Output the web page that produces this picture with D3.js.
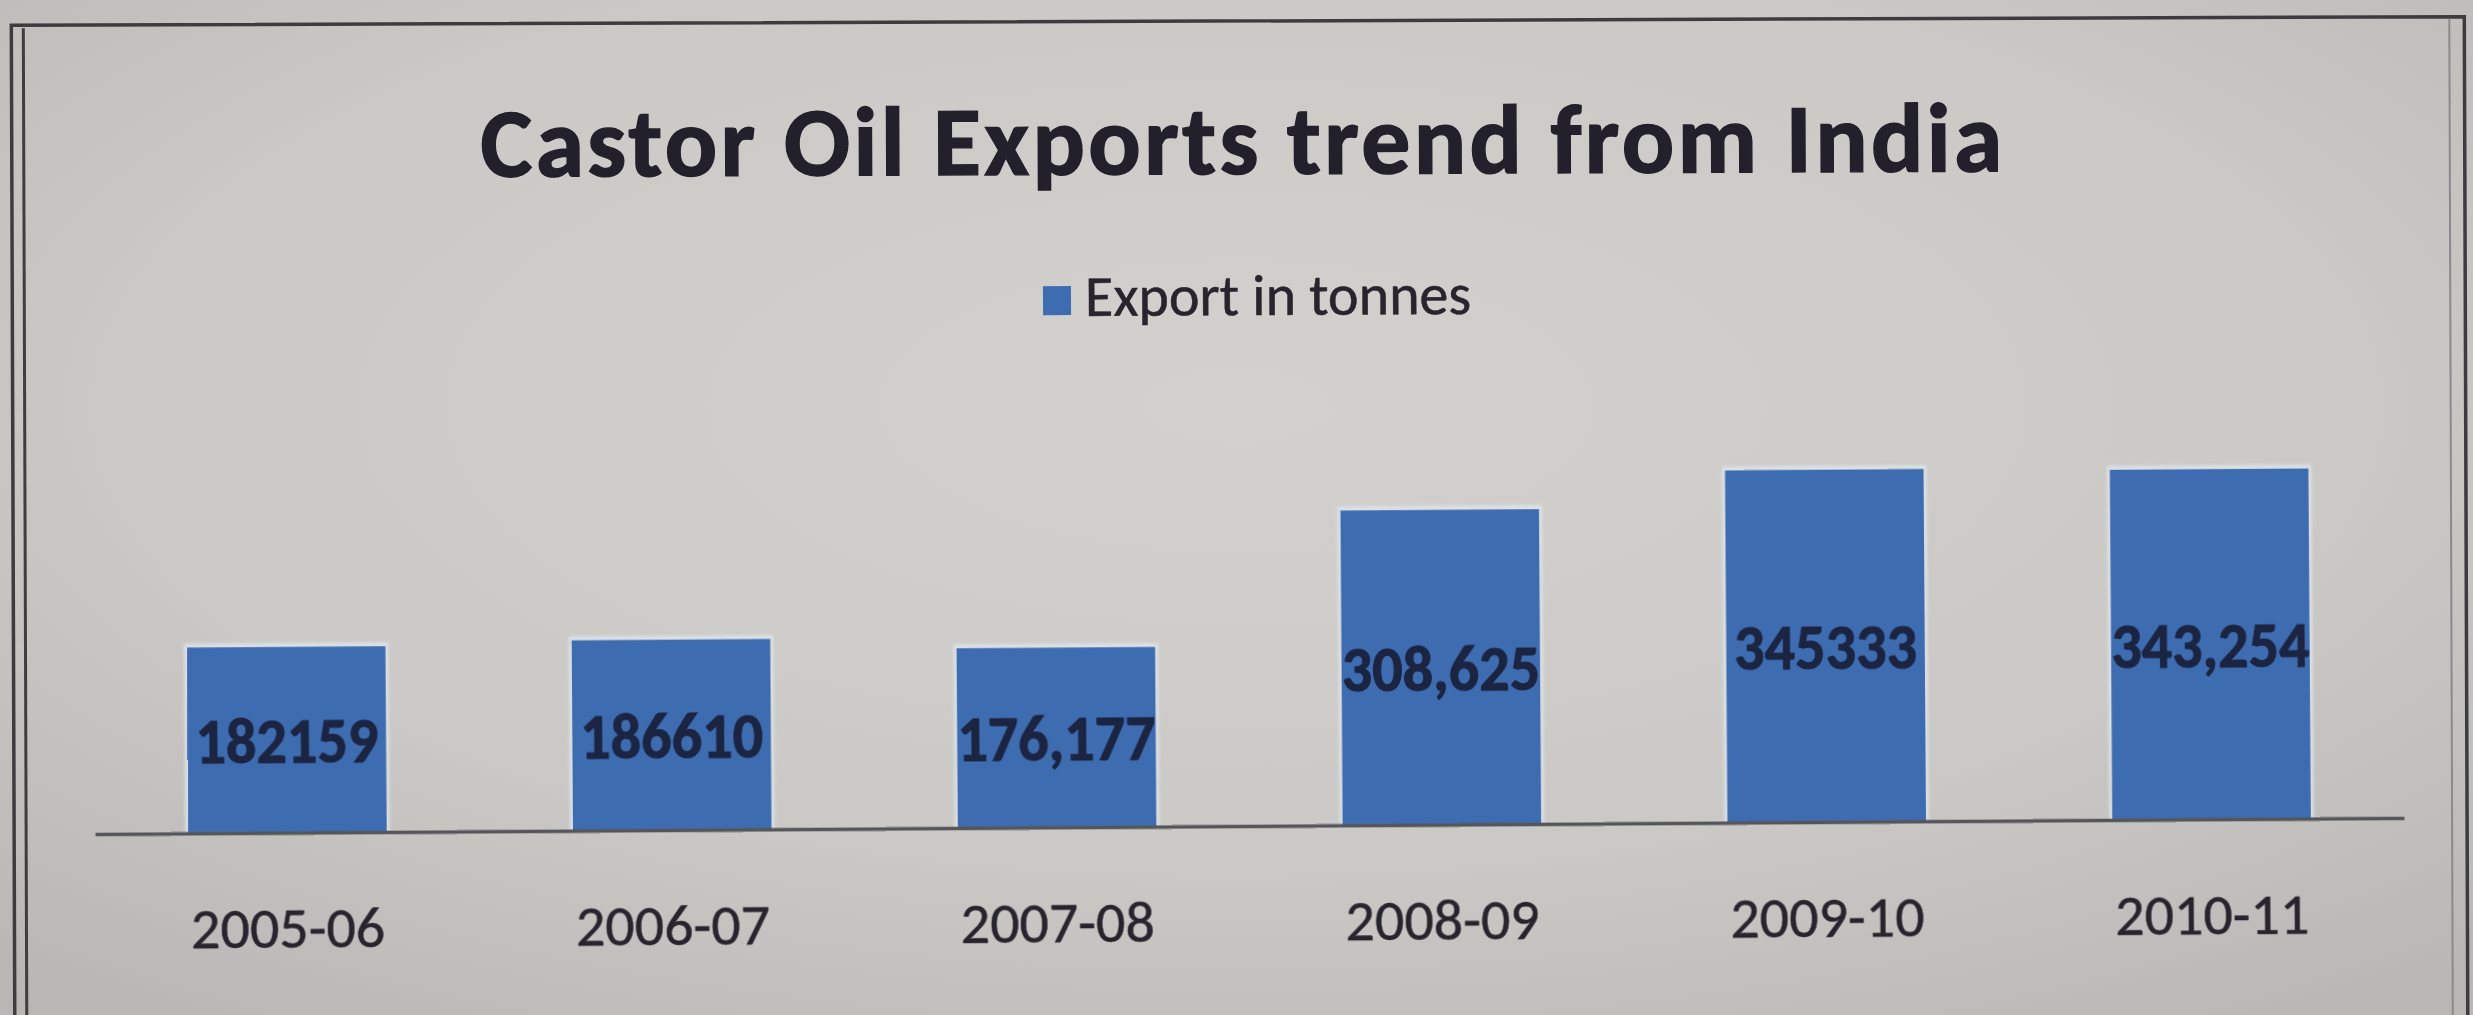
<!DOCTYPE html>
<html>
<head>
<meta charset="utf-8">
<script src="https://cdn.jsdelivr.net/npm/d3@7"></script>
<style>
  html, body { margin: 0; padding: 0; background: #bdbbb8; overflow: hidden; }
  svg { display: block; }
</style>
</head>
<body>
<svg id="chart" width="2473" height="1015"></svg>
<script>
// Castor oil exports from India, tonnes per financial year
const categories = ["2005-06", "2006-07", "2007-08", "2008-09", "2009-10", "2010-11"];
const exportTonnes = [182159, 186610, 176177, 308625, 345333, 343254];
const valueLabels = ["182159", "186610", "176,177", "308,625", "345333", "343,254"];
const seriesName = "Export in tonnes";
const chartTitle = "Castor Oil Exports trend from India";
const valueDomain = [0, 400000];

const W = 2473, H = 1015;
const svg = d3.select("#chart");
const bodyFont = "Carlito, Calibri, Lato, sans-serif";

// paper background, slightly brighter toward the middle
const defs = svg.append("defs");
const grad = defs.append("radialGradient").attr("id", "paper")
  .attr("cx", "50%").attr("cy", "40%").attr("r", "75%");
grad.append("stop").attr("offset", "0%").attr("stop-color", "#d2d1ce");
grad.append("stop").attr("offset", "60%").attr("stop-color", "#cac9c6");
grad.append("stop").attr("offset", "100%").attr("stop-color", "#b9b7b5");
svg.append("rect").attr("width", W).attr("height", H).attr("fill", "url(#paper)");

defs.append("filter").attr("id", "soft")
  .attr("x", "-10%").attr("y", "-10%").attr("width", "120%").attr("height", "120%")
  .append("feGaussianBlur").attr("stdDeviation", 1.6);

// frame: single rule on top, doubled rules at the sides
const frame = svg.append("g").attr("transform", `rotate(-0.2 ${W / 2} ${H / 2})`)
  .attr("fill", "none");
frame.append("path")
  .attr("d", `M13,${H + 20} L13,21 L2466,21 L2466,${H + 20}`)
  .attr("stroke", "#3c3c3e").attr("stroke-width", 3.5);
frame.append("path")
  .attr("d", `M25,${H + 20} L25,24`)
  .attr("stroke", "#3e3e40").attr("stroke-width", 3);
frame.append("path")
  .attr("d", `M2451,${H + 20} L2451,23`)
  .attr("stroke", "#8a8a8c").attr("stroke-width", 2);

const textColor = "#26252d";
const barColor = "#3e6cb1";

// title
svg.append("g").attr("transform", "rotate(-0.2 1243 140)")
  .append("text")
  .attr("x", 1243).attr("y", 174)
  .attr("text-anchor", "middle")
  .attr("font-family", bodyFont)
  .attr("font-weight", 700)
  .attr("font-size", 98)
  .attr("letter-spacing", 3.2)
  .attr("fill", "#22202a")
  .attr("stroke", "#22202a")
  .attr("stroke-width", 1.4)
  .text(chartTitle);

// legend
const legend = svg.append("g").attr("transform", "rotate(-0.3 1260 300)");
legend.append("rect")
  .attr("x", 1043).attr("y", 285).attr("width", 28).attr("height", 29)
  .attr("fill", barColor);
legend.append("text")
  .attr("x", 1085).attr("y", 315)
  .attr("font-family", bodyFont)
  .attr("font-size", 58)
  .attr("fill", textColor)
  .attr("stroke", textColor)
  .attr("stroke-width", 0.5)
  .text(seriesName);

// plot
const x = d3.scaleBand()
  .domain(categories)
  .range([95, 2404])
  .paddingInner(0.484)
  .paddingOuter(0.242);

const y = d3.scaleLinear()
  .domain(valueDomain)
  .range([826, 418]);

const plot = svg.append("g").attr("transform", "rotate(-0.4 1246 826)");

const rows = categories.map((c, i) => ({ c, v: exportTonnes[i], label: valueLabels[i] }));

// soft light rim around each bar
plot.append("g").attr("filter", "url(#soft)").selectAll("rect.rim")
  .data(rows).join("rect")
  .attr("class", "rim")
  .attr("x", d => x(d.c) - 3)
  .attr("y", d => y(d.v) - 4)
  .attr("width", x.bandwidth() + 6)
  .attr("height", d => y(0) - y(d.v) + 4)
  .attr("fill", "#e2e7ee")
  .attr("opacity", 0.75);

plot.append("g").selectAll("rect.bar")
  .data(rows).join("rect")
  .attr("class", "bar")
  .attr("x", d => x(d.c))
  .attr("y", d => y(d.v))
  .attr("width", x.bandwidth())
  .attr("height", d => y(0) - y(d.v))
  .attr("fill", barColor);

// category axis along the baseline
const axis = plot.append("g")
  .attr("transform", `translate(0,${y(0)})`)
  .call(d3.axisBottom(x).tickSize(0).tickSizeOuter(0).tickPadding(74));
axis.select(".domain").attr("stroke", "#55565a").attr("stroke-width", 3.5);
axis.selectAll(".tick text")
  .attr("font-family", bodyFont)
  .attr("font-size", 58)
  .attr("fill", textColor)
  .attr("stroke", textColor)
  .attr("stroke-width", 0.5);

// value labels centred in the bars, set in a slightly condensed bold face
plot.append("g").selectAll("text.val")
  .data(rows).join("text")
  .attr("class", "val")
  .attr("transform", d =>
    `translate(${x(d.c) + x.bandwidth() / 2},${(y(d.v) + y(0)) / 2}) scale(0.94,1)`)
  .attr("dy", "0.36em")
  .attr("text-anchor", "middle")
  .attr("font-family", bodyFont)
  .attr("font-weight", 700)
  .attr("font-size", 64)
  .attr("fill", "#1b2441")
  .attr("stroke", "#1b2441")
  .attr("stroke-width", 1)
  .text(d => d.label);
</script>
</body>
</html>
